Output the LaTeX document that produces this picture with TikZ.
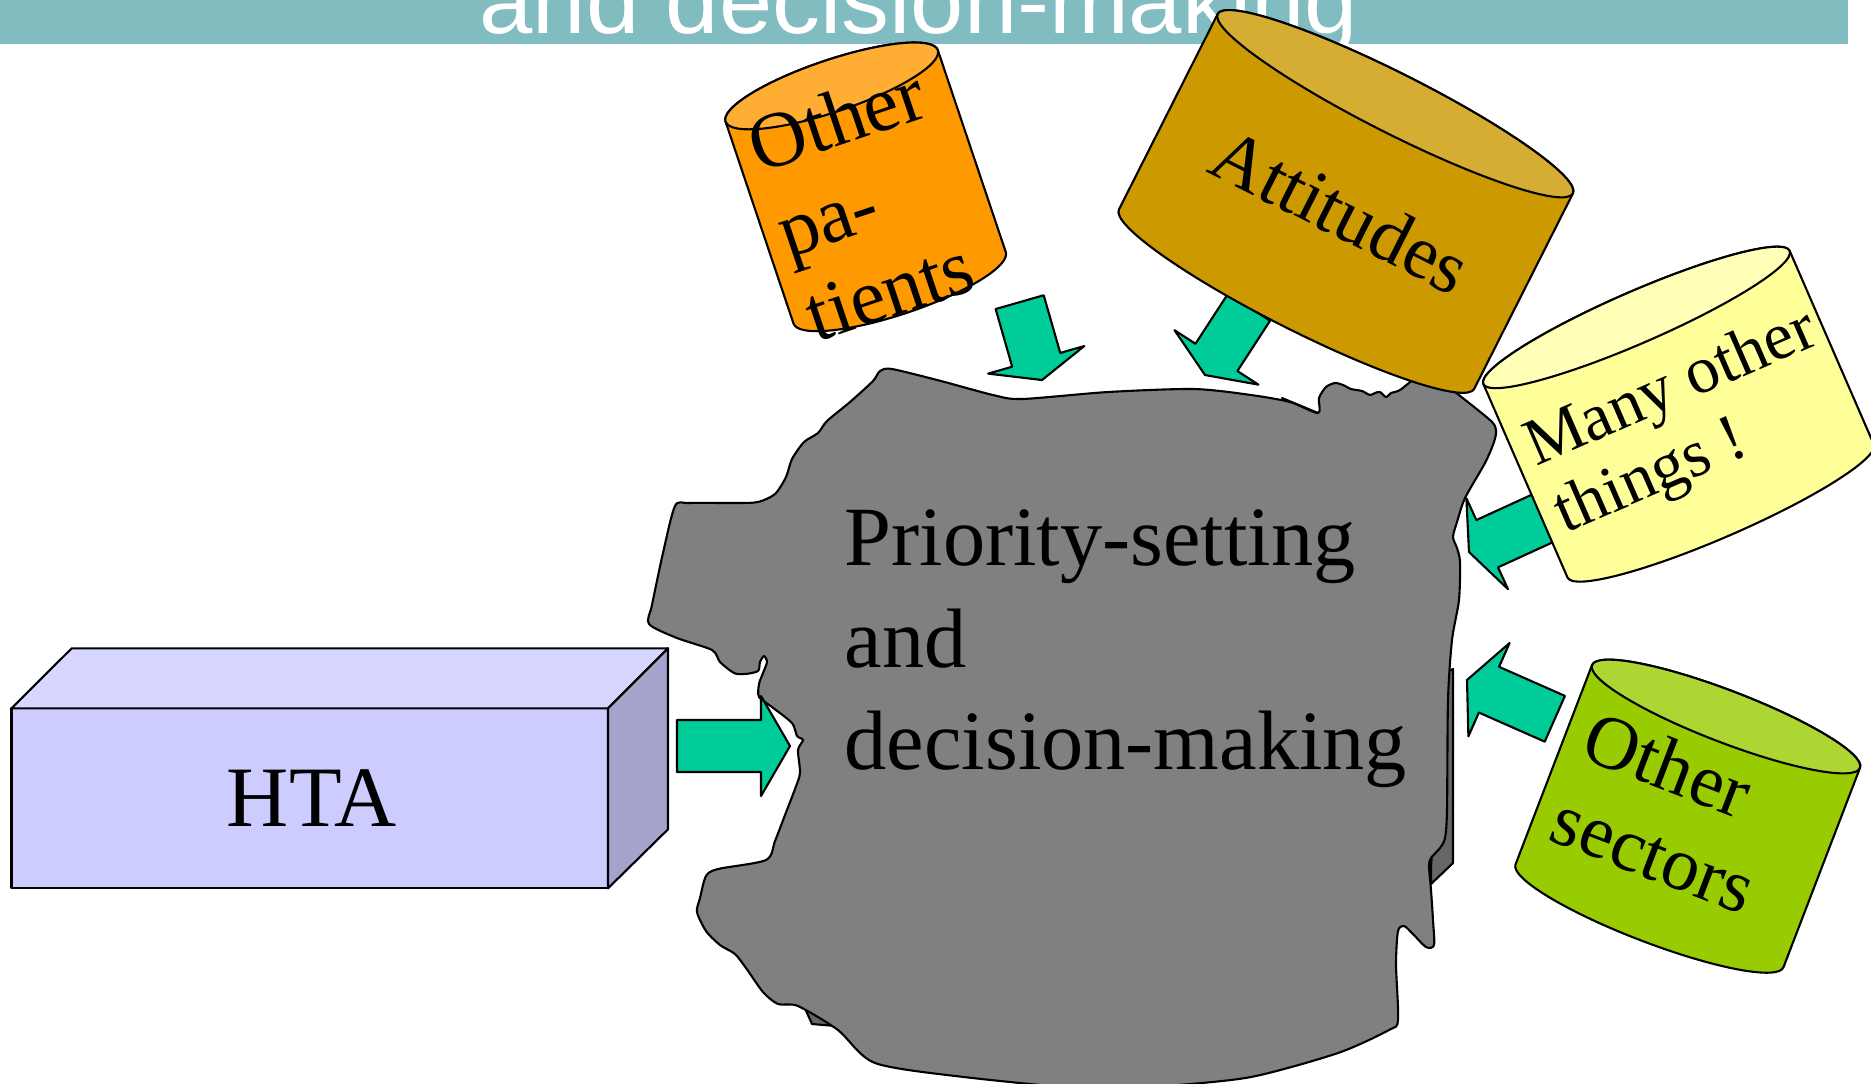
\documentclass[tikz,border=0pt]{standalone}
\usepackage{graphicx}
\usepackage{fontspec}
\setmainfont{Liberation Serif}
\newfontfamily\bannerfont{Liberation Sans}

\definecolor{bannerteal}{RGB}{128,188,192}
\definecolor{blobgrey}{RGB}{128,128,128}
\definecolor{blobshadow}{RGB}{102,102,102}
\definecolor{arrowgreen}{RGB}{0,204,153}
\definecolor{htafront}{RGB}{204,204,255}
\definecolor{htatop}{RGB}{214,214,255}
\definecolor{htaside}{RGB}{163,163,204}
\definecolor{patientsbody}{RGB}{255,153,0}
\definecolor{patientstop}{RGB}{255,173,51}
\definecolor{attitudesbody}{RGB}{204,153,0}
\definecolor{attitudestop}{RGB}{214,173,51}
\definecolor{manybody}{RGB}{255,255,153}
\definecolor{manytop}{RGB}{255,255,184}
\definecolor{sectorsbody}{RGB}{153,204,0}
\definecolor{sectorstop}{RGB}{173,214,51}

\begin{document}
\begin{tikzpicture}[
                x=0.1mm, y=-0.1mm,
                outline/.style={draw=black, line width=0.6pt, line join=round},
                blockarrow/.style={outline, fill=arrowgreen},
                cyltext/.style={transform shape, inner sep=0pt, align=left},
                ]
            \useasboundingbox (0,0) rectangle (1871,1083);
            \fill[white] (0,0) rectangle (1871,1083);

            % title strip, cut off at the top
            \fill[bannerteal] (0,0) rectangle (1848,44);
            \begin{scope}
                \clip (0,0) rectangle (1848,44);
                \node[anchor=base west, inner sep=0pt, text=white, font=\bannerfont\fontsize{25}{25}\selectfont] (title) at (479,33) {\scalebox{1.09}[1.05]{and decision-making}};
            \end{scope}

            % shadow pieces of the blob
            \filldraw[outline, fill=blobshadow] (1446,672) -- (1453,669) -- (1453,863) -- (1431,884) -- (1431,866) -- cycle;
            \filldraw[outline, fill=blobshadow] (803,1004) -- (812,1024) -- (836,1026) -- (832,1018) -- cycle;
            \filldraw[outline, fill=blobshadow] (1282,398) -- (1318,413) -- (1318,418) -- cycle;

            % the blob
            \draw[outline, fill=blobgrey] plot[smooth cycle, tension=0.45] coordinates {
                (873,381) (880,371) (892,369) (941,381) (993,395) (1022,399) (1108,392) (1194,389)
                (1251,395) (1290,402) (1318,413) (1319,398) (1326,387) (1335,383) (1343,385) (1351,389)
                (1362,391) (1370,395) (1375,393) (1380,392) (1386,397) (1391,393) (1400,390) (1417,377)
                (1432,374) (1450,388) (1490,420) (1496,430) (1494,442) (1485,463) (1465,498) (1457,522)
                (1453,537) (1457,548) (1460,562) (1459,600) (1452,640) (1448,700) (1447,810) (1445,838)
                (1440,848) (1431,858) (1429,866) (1431,890) (1433,920) (1434,945) (1426,947) (1412,933)
                (1404,926) (1398,931) (1396,964) (1398,1020) (1389,1030) (1338,1053) (1251,1077) (1165,1086)
                (1091,1089) (964,1077) (875,1063) (838,1030) (798,1006) (778,1004) (763,992) (746,968)
                (735,954) (720,945) (706,931) (697,912) (700,898) (706,876) (718,869) (766,860)
                (775,841) (785,815) (795,789) (800,773) (798,750) (803,740) (797,736) (792,723)
                (772,707) (759,697) (759,684) (763,673) (767,662) (764,656) (760,662) (758,671)
                (745,674) (734,673) (720,662) (712,650) (677,638) (649,624) (652,605) (663,553)
                (675,506) (689,503) (735,503) (758,502) (775,494) (786,477) (792,459) (804,442)
                (818,433) (827,421) (850,402)};
            \node[anchor=north west, inner sep=0pt, align=left, font=\fontsize{24}{29}\selectfont] (priority) at (844,509) {Priority-setting\\and\\decision-making};

            % green arrows
            \draw[blockarrow, shift={(1042,380)}, rotate=-74] (0,0) -- (-21,50) -- (-21,25) -- (-81,25) -- (-81,-25) -- (-21,-25) -- (-21,-50) -- cycle;
            \draw[blockarrow, shift={(1205,375)}, rotate=-123] (0,0) -- (-21,50) -- (-21,25) -- (-81,25) -- (-81,-25) -- (-21,-25) -- (-21,-50) -- cycle;
            \draw[blockarrow, shift={(1469,552)}, rotate=-155.4] (0,0) -- (-20,50) -- (-20,26) -- (-115,26) -- (-115,-26) -- (-20,-26) -- (-20,-50) -- cycle;
            \draw[blockarrow, shift={(1467,680)}, rotate=156.2] (0,0) -- (-24,51) -- (-24,25) -- (-96,25) -- (-96,-25) -- (-24,-25) -- (-24,-51) -- cycle;

            % Other patients
            \begin{scope}[shift={(831.7,85.9)}, y=0.1mm, rotate=18.6]
                \filldraw[outline, fill=patientsbody] (-112,0) -- (-112,-213) arc[start angle=180, end angle=360, x radius=11.2mm, y radius=2.6mm] -- (112,0) arc[start angle=0, end angle=180, x radius=11.2mm, y radius=2.6mm] -- cycle;
                \filldraw[outline, fill=patientstop] (0,0) ellipse [x radius=11.2mm, y radius=2.6mm];
                \node[cyltext, anchor=north west, font=\fontsize{22.5}{25.5}\selectfont] (patients) at (-97,-4) {Other\\pa-\\tients};
            \end{scope}

            % Attitudes
            \begin{scope}[shift={(1395.3,103.7)}, y=0.1mm, rotate=-26.8]
                \filldraw[outline, fill=attitudesbody] (-199,0) -- (-199,-219) arc[start angle=180, end angle=360, x radius=19.9mm, y radius=3mm] -- (199,0) arc[start angle=0, end angle=180, x radius=19.9mm, y radius=3mm] -- cycle;
                \filldraw[outline, fill=attitudestop] (0,0) ellipse [x radius=19.9mm, y radius=3mm];
                \node[cyltext, font=\fontsize{21.5}{25}\selectfont] (attitudes) at (0,-120) {Attitudes};
            \end{scope}

            % Many other things
            \begin{scope}[shift={(1636.5,317.4)}, y=0.1mm, rotate=23.5]
                \filldraw[outline, fill=manybody] (-167,0) -- (-167,-211) arc[start angle=180, end angle=360, x radius=16.7mm, y radius=2.6mm] -- (167,0) arc[start angle=0, end angle=180, x radius=16.7mm, y radius=2.6mm] -- cycle;
                \filldraw[outline, fill=manytop] (0,0) ellipse [x radius=16.7mm, y radius=2.6mm];
                \node[cyltext, anchor=north west, font=\fontsize{19}{20.8}\selectfont] (many) at (-152,-50) {Many other\\things !};
            \end{scope}

            % Other sectors
            \begin{scope}[shift={(1726,716.5)}, y=0.1mm, rotate=-21]
                \filldraw[outline, fill=sectorsbody] (-143.5,0) -- (-143.5,-213.5) arc[start angle=180, end angle=360, x radius=14.35mm, y radius=2.6mm] -- (143.5,0) arc[start angle=0, end angle=180, x radius=14.35mm, y radius=2.6mm] -- cycle;
                \filldraw[outline, fill=sectorstop] (0,0) ellipse [x radius=14.35mm, y radius=2.6mm];
                \node[cyltext, anchor=north west, font=\fontsize{21.5}{25}\selectfont] (sectors) at (-124,-38) {Other\\sectors};
            \end{scope}

            % HTA box
            \filldraw[outline, fill=htafront] (11.5,708.3) rectangle (608,888.3);
            \filldraw[outline, fill=htatop] (11.5,708.3) -- (71.7,648.3) -- (668,648.3) -- (608,708.3) -- cycle;
            \filldraw[outline, fill=htaside] (608,708.3) -- (668,648.3) -- (668,829.3) -- (608,888.3) -- cycle;
            \node[font=\fontsize{24.5}{29}\selectfont] (hta) at (312,798) {HTA};
            \draw[blockarrow, shift={(790,746)}] (0,0) -- (-29,-50) -- (-29,-26) -- (-113,-26) -- (-113,26) -- (-29,26) -- (-29,50) -- cycle;

            \end{tikzpicture}
\end{document}
